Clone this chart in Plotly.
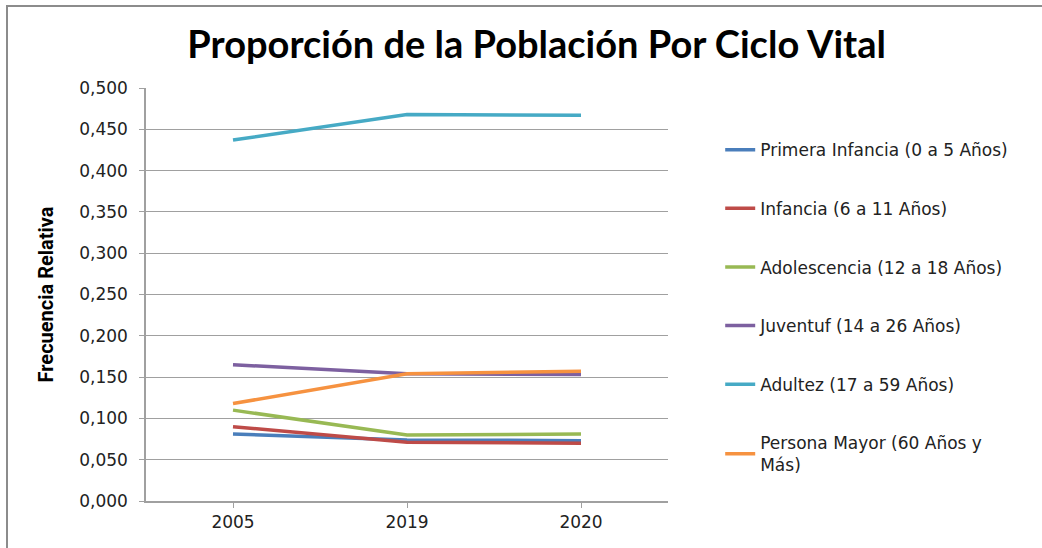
import plotly.graph_objects as go

# years on the category axis
years = ["2005", "2019", "2020"]

# relative frequency per life-cycle group
primera_infancia = [0.081, 0.074, 0.073]
infancia = [0.090, 0.071, 0.070]
adolescencia = [0.110, 0.080, 0.081]
juventud = [0.165, 0.154, 0.153]
adultez = [0.437, 0.468, 0.467]
persona_mayor = [0.118, 0.154, 0.157]

names = ["Primera Infancia (0 a 5 Años)", "Infancia (6 a 11 Años)",
         "Adolescencia (12 a 18 Años)", "Juventuf (14 a 26 Años)",
         "Adultez (17 a 59 Años)", "Persona Mayor (60 Años y<br>Más)"]
series = [primera_infancia, infancia, adolescencia, juventud, adultez, persona_mayor]
colors = ["#4A7EBB", "#BE4B48", "#98B954", "#7D60A0", "#46AAC5", "#F69240"]

# plot area in pixels (left, top, width, height)
L, T, W, H = 146, 88, 522, 413

fig = go.Figure()
for i, (nm, ys, c) in enumerate(zip(names, series, colors)):
    fig.add_trace(go.Scatter(x=years, y=ys, name=nm, mode="lines",
                             legendgroup=str(i),
                             line=dict(color=c, width=3.5)))

fig.update_layout(
    width=1042, height=548,
    separators=",.",
    paper_bgcolor="white", plot_bgcolor="white",
    margin=dict(l=L, r=1042 - L - W, t=T, b=548 - T - H),
    font=dict(family="DejaVu Sans", color="#222"),
    title=dict(text="<b>Proporción de la Población Por Ciclo Vital</b>",
               x=0.515, xanchor="center", y=0.918, yanchor="middle",
               font=dict(family="Lato", size=38, color="#000")),
    showlegend=True,
    legend=dict(x=1.1, xanchor="left", y=0.893, yanchor="top",
                font=dict(size=17, color="#222"), tracegroupgap=33.5,
                bgcolor="rgba(0,0,0,0)"),
    xaxis=dict(type="category", range=[-0.5, 2.5], showgrid=False,
               showline=True, linecolor="#A0A0A0", linewidth=1.5,
               ticks="outside", ticklen=5, tickcolor="#A0A0A0",
               tickfont=dict(size=17, color="#222")),
    yaxis=dict(range=[0, 0.5], dtick=0.05, tickformat=".3f",
               showgrid=True, gridcolor="#A0A0A0", gridwidth=1.2,
               showline=True, linecolor="#A0A0A0", linewidth=1.5,
               ticks="outside", ticklen=5, tickcolor="#A0A0A0",
               ticklabelstandoff=8,
               tickfont=dict(size=17, color="#222"),
               title=dict(text="<b>Frecuencia Relativa</b>", standoff=20,
                          font=dict(family="Roboto", size=20, color="#000"))),
    shapes=[dict(type="rect", xref="paper", yref="paper",
                 x0=(7 - L) / W, x1=(1060 - L) / W,
                 y0=(T + H - 570) / H, y1=(T + H - 6) / H,
                 line=dict(color="#8C8C8C", width=2), fillcolor="rgba(0,0,0,0)")],
)

# drop the default 8px page margin so the figure sits at the window origin
fig.write_html("out.html", config={"displayModeBar": False},
               post_script="document.body.style.margin='0px';")
